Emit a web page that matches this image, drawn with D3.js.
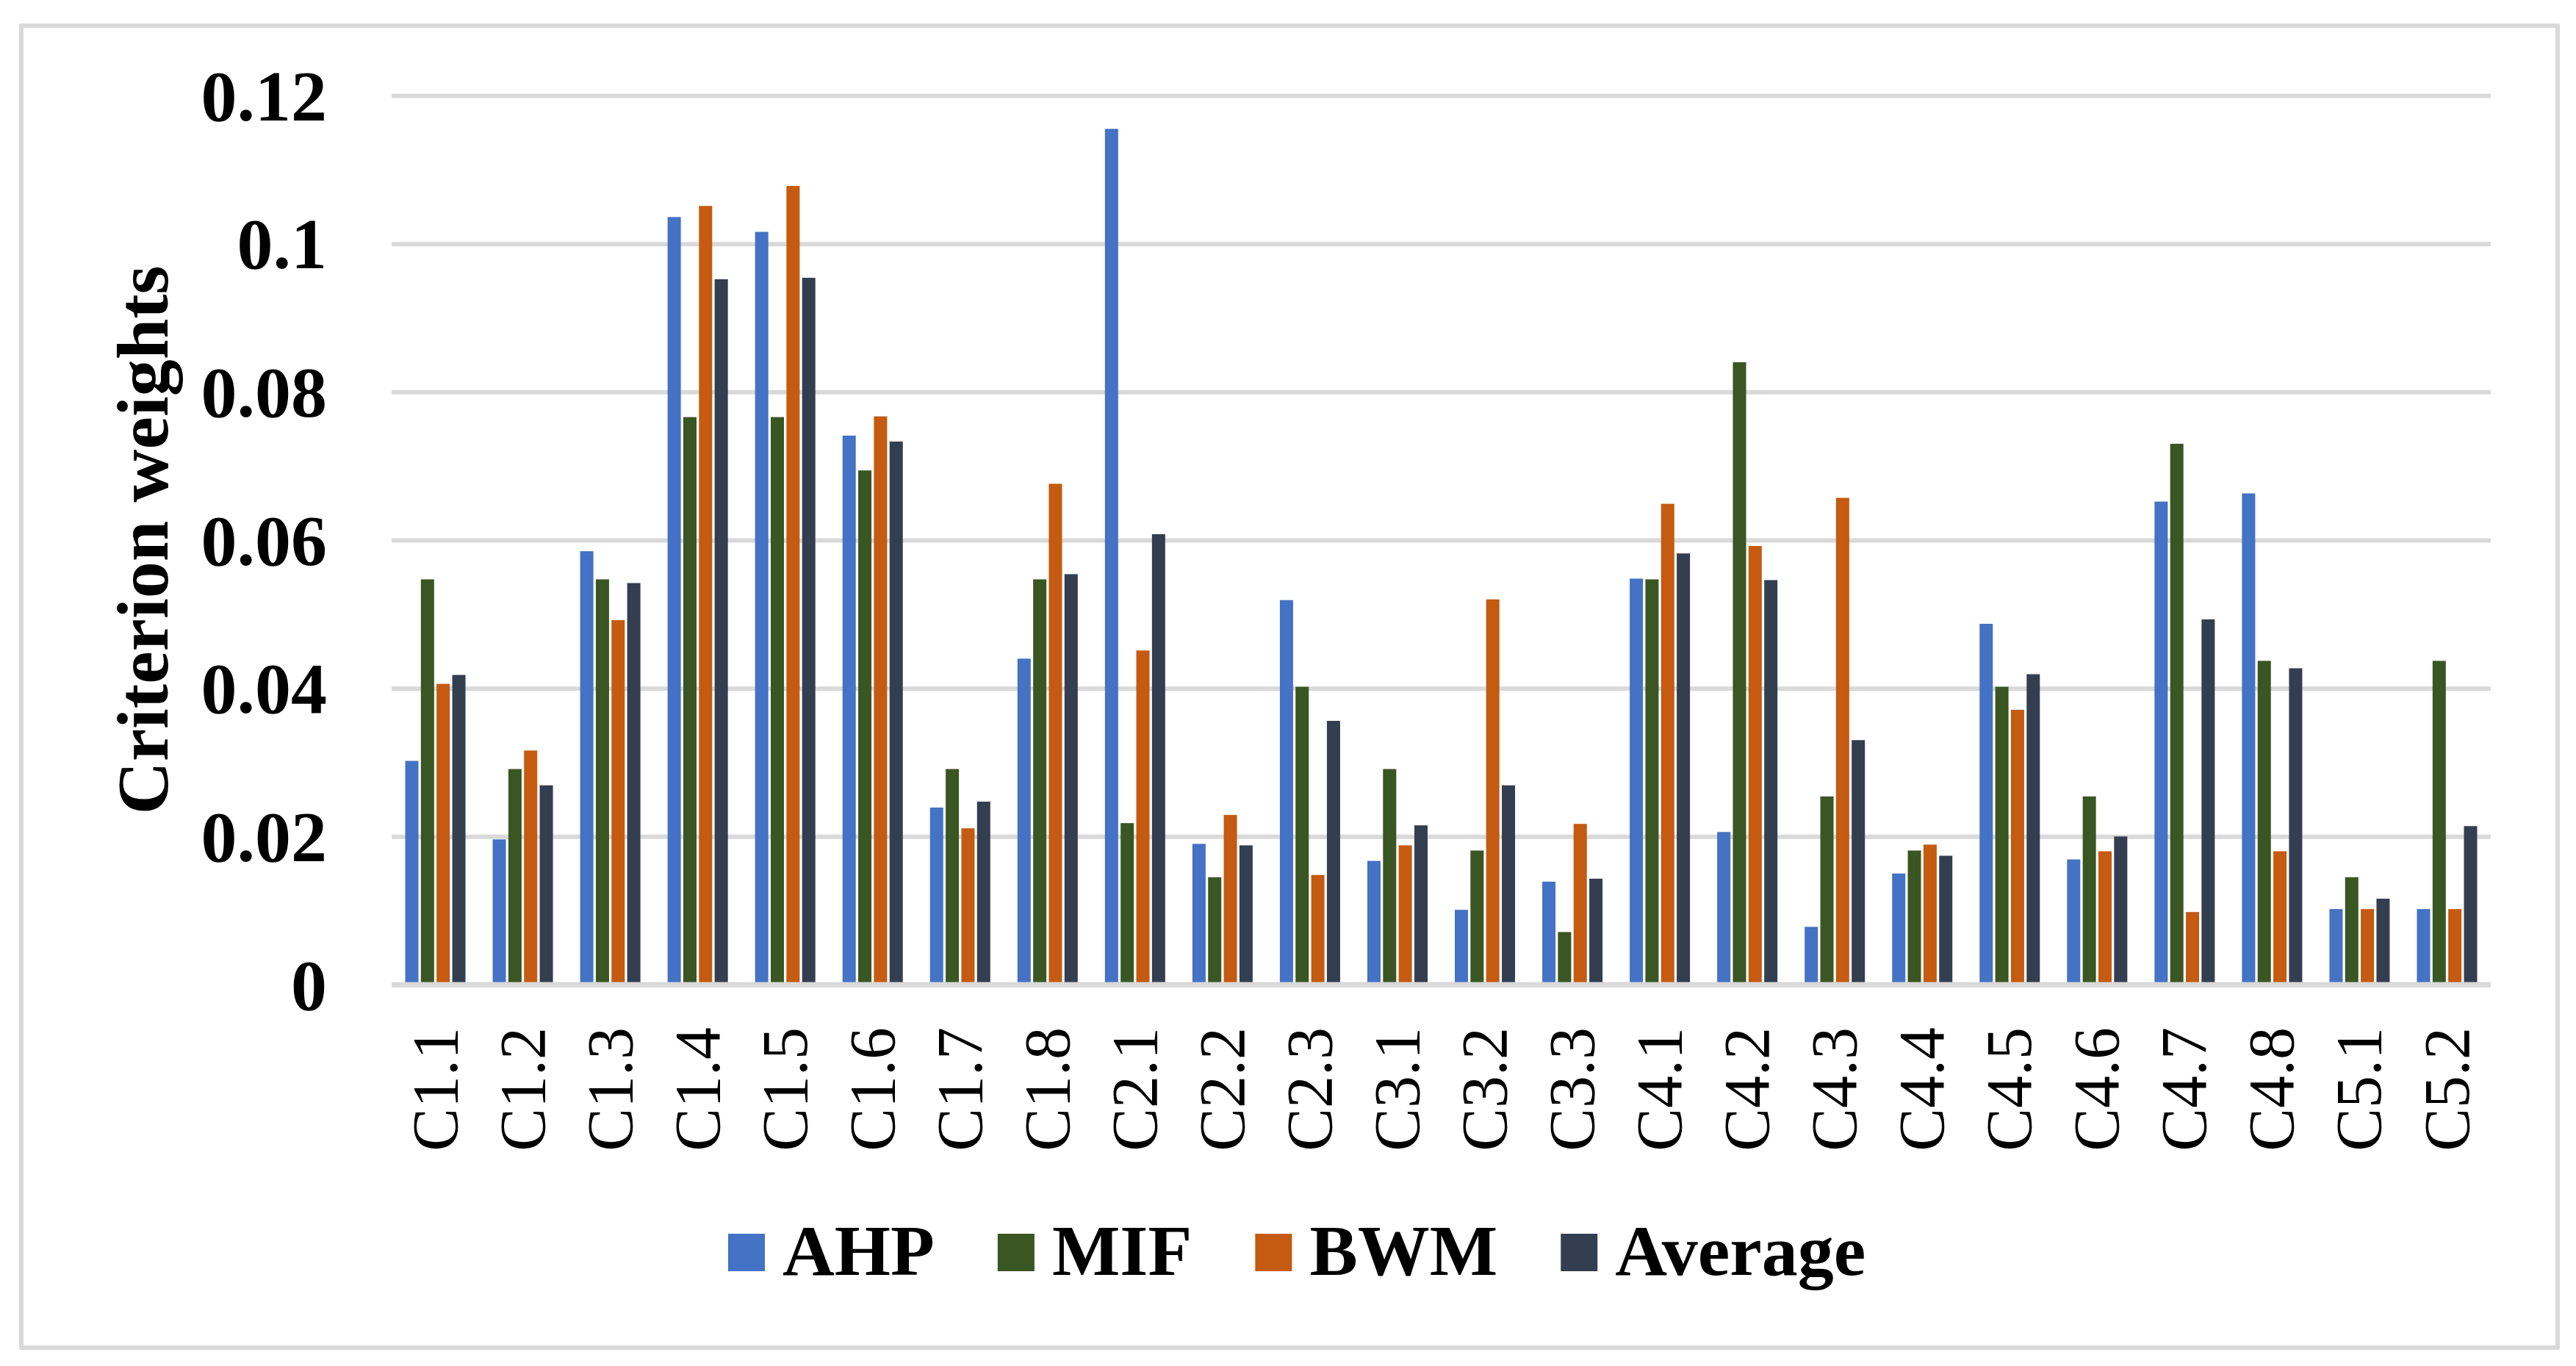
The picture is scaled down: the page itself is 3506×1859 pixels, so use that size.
<!DOCTYPE html>
<html>
<head>
<meta charset="utf-8">
<script src="https://cdn.jsdelivr.net/npm/d3@7"></script>
<style>
  html, body { margin: 0; padding: 0; background: #ffffff; }
  svg { display: block; }
</style>
</head>
<body>
<script>
const categories = ["C1.1","C1.2","C1.3","C1.4","C1.5","C1.6","C1.7","C1.8","C2.1","C2.2","C2.3","C3.1","C3.2","C3.3","C4.1","C4.2","C4.3","C4.4","C4.5","C4.6","C4.7","C4.8","C5.1","C5.2"];
const seriesNames = ["AHP", "MIF", "BWM", "Average"];
const ahp = [0.0302,0.0196,0.0585,0.1036,0.1016,0.0741,0.0239,0.0440,0.1155,0.0190,0.0519,0.0167,0.0101,0.0139,0.0548,0.0206,0.0078,0.0150,0.0487,0.0169,0.0652,0.0663,0.0102,0.0102];
const mif = [0.0547,0.0291,0.0547,0.0766,0.0766,0.0694,0.0291,0.0547,0.0218,0.0145,0.0402,0.0291,0.0181,0.0071,0.0547,0.0840,0.0254,0.0181,0.0402,0.0254,0.0730,0.0437,0.0145,0.0437];
const bwm = [0.0406,0.0316,0.0492,0.1051,0.1078,0.0767,0.0211,0.0676,0.0451,0.0229,0.0148,0.0188,0.0520,0.0217,0.0649,0.0592,0.0657,0.0189,0.0371,0.0180,0.0098,0.0180,0.0102,0.0102];
const average = [0.0418,0.0269,0.0542,0.0952,0.0954,0.0733,0.0247,0.0554,0.0608,0.0188,0.0356,0.0215,0.0269,0.0143,0.0582,0.0546,0.0330,0.0174,0.0419,0.0200,0.0493,0.0427,0.0116,0.0214];
const yTickValues = [0, 0.02, 0.04, 0.06, 0.08, 0.1, 0.12];
const yTickLabels = ["0", "0.02", "0.04", "0.06", "0.08", "0.1", "0.12"];
const yTitle = "Criterion weights";
const colors = ["#4472C4", "#3A5623", "#C55A11", "#333F50"];

const seriesValues = [ahp, mif, bwm, average];
const W = 3506, H = 1859;
const FONT = "'Liberation Serif', 'Times New Roman', serif";
const plot = { left: 533, right: 3390, top: 130, bottom: 1340 };

const svg = d3.select("body").append("svg").attr("width", W).attr("height", H);
svg.append("rect").attr("x", 0).attr("y", 0).attr("width", W).attr("height", H).attr("fill", "#fff");

// chart border
svg.append("rect")
  .attr("x", 29).attr("y", 35).attr("width", 3452).attr("height", 1799)
  .attr("fill", "none").attr("stroke", "#D9D9D9").attr("stroke-width", 6)
  .attr("stroke-linejoin", "round");

const x = d3.scaleBand().domain(categories).range([plot.left, plot.right])
  .paddingInner(0.311).paddingOuter(0.1555);
const xs = d3.scaleBand().domain(seriesNames).range([0, x.bandwidth()])
  .paddingInner(0.156).paddingOuter(0);
const y = d3.scaleLinear().domain([0, 0.12]).range([plot.bottom, plot.top]);

// gridlines
const grid = svg.append("g").attr("transform", `translate(${plot.left},0)`)
  .call(d3.axisLeft(y).tickValues(yTickValues).tickSize(-(plot.right - plot.left)).tickFormat(""));
grid.select(".domain").remove();
grid.selectAll("line").attr("stroke", "#D9D9D9").attr("stroke-width", 6);

// bars
const rows = categories.map((c, i) => ({ cat: c, vals: seriesNames.map((s, j) => ({ s, v: seriesValues[j][i], j })) }));
const groups = svg.append("g").selectAll("g").data(rows).join("g")
  .attr("transform", d => `translate(${x(d.cat)},0)`);
groups.selectAll("rect").data(d => d.vals).join("rect")
  .attr("x", d => xs(d.s))
  .attr("width", xs.bandwidth())
  .attr("y", d => y(d.v))
  .attr("height", d => y(0) - y(d.v))
  .attr("fill", d => colors[d.j]);

// zero axis line on top
svg.append("line").attr("x1", plot.left).attr("x2", plot.right)
  .attr("y1", y(0)).attr("y2", y(0)).attr("stroke", "#D9D9D9").attr("stroke-width", 7);

// y tick labels
const yAxis = svg.append("g").attr("transform", `translate(445,0)`)
  .call(d3.axisLeft(y).tickValues(yTickValues).tickSize(0).tickPadding(0)
    .tickFormat((d, i) => yTickLabels[i]));
yAxis.select(".domain").remove();
yAxis.selectAll("text")
  .attr("font-family", FONT).attr("font-weight", "bold").attr("font-size", 98)
  .attr("fill", "#000").attr("dy", "0.34em").attr("x", 0).attr("text-anchor", "end");

// x tick labels (rotated)
const xAxis = svg.append("g").attr("transform", `translate(0,1398)`)
  .call(d3.axisBottom(x).tickSize(0).tickPadding(0));
xAxis.select(".domain").remove();
xAxis.selectAll("text")
  .attr("font-family", FONT).attr("font-size", 88).attr("fill", "#000")
  .attr("text-anchor", "end")
  .attr("transform", "rotate(-90)")
  .attr("x", 0).attr("y", 0).attr("dy", "0.33em");

// y axis title
svg.append("text")
  .attr("transform", `translate(228,${(plot.top + plot.bottom) / 2}) rotate(-90)`)
  .attr("text-anchor", "middle")
  .attr("font-family", FONT).attr("font-weight", "bold").attr("font-size", 100)
  .attr("fill", "#000")
  .text(yTitle);

// legend
const legend = svg.append("g");
let lx = 991;
seriesNames.forEach((name, i) => {
  legend.append("rect").attr("x", lx).attr("y", 1679).attr("width", 50).attr("height", 51).attr("fill", colors[i]);
  const t = legend.append("text").attr("x", lx + 74).attr("y", 1735)
    .attr("font-family", FONT).attr("font-weight", "bold").attr("font-size", 98)
    .attr("fill", "#000").text(name);
  lx = lx + 74 + t.node().getComputedTextLength() + 86;
});
</script>
</body>
</html>
